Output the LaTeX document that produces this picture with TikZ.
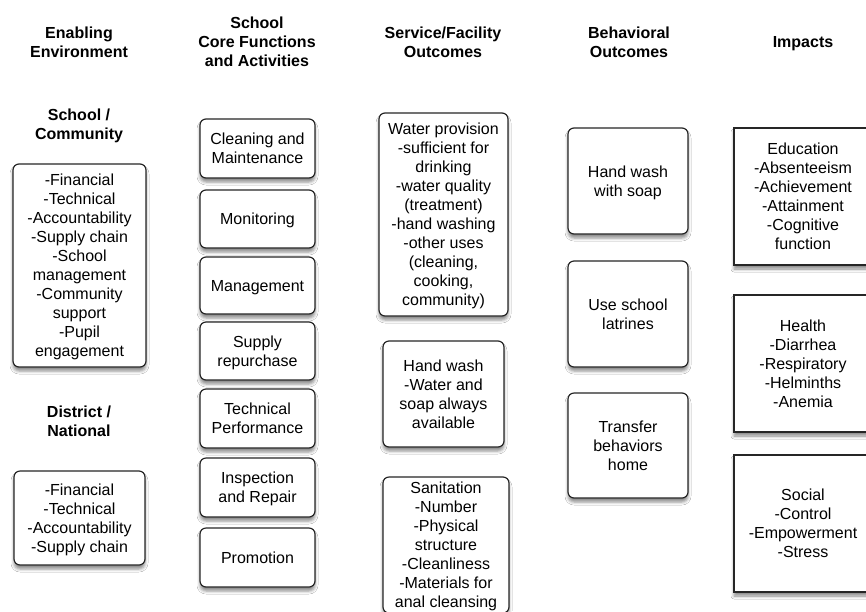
\documentclass[tikz,border=0pt]{standalone}
\usepackage{fontspec}
\setmainfont{Liberation Sans}
\usetikzlibrary{shadows.blur}
\begin{document}
\begin{tikzpicture}[x=1pt,y=-1pt,
  txt/.style={font=\fontsize{16}{19}\selectfont, align=center, inner sep=0pt, text depth=0pt},
  hdr/.style={font=\fontsize{16}{19}\selectfont\bfseries, align=center, inner sep=0pt, text depth=0pt},
  rbox/.style={txt, draw=black!85, line width=1.2pt, rounded corners=6pt, fill=white,
    blur shadow={shadow xshift=0pt, shadow yshift=-4pt, shadow blur radius=3pt, shadow opacity=45}},
  sbox/.style={txt, draw=black!85, line width=1.2pt, fill=white,
    blur shadow={shadow xshift=0pt, shadow yshift=-4pt, shadow blur radius=3pt, shadow opacity=45}}]
\useasboundingbox (0,0) rectangle (866,611);
\fill[white] (0,0) rectangle (866,611);
\clip (0,0) rectangle (866,611);
% headers
\node[hdr] (h1) at (79,42) {Enabling\\Environment};
\node[hdr] (h2) at (257,42) {School\\Core Functions\\and Activities};
\node[hdr] (h3) at (443,42) {Service/Facility\\Outcomes};
\node[hdr] (h4) at (629,42) {Behavioral\\Outcomes};
\node[hdr] (h5) at (803,42) {Impacts};
\node[hdr] (sc) at (79,124.5) {School /\\Community};
\node[hdr] (dn) at (79,421.5) {District /\\National};
% column 1
\node[rbox, minimum width=133pt, minimum height=203pt] (e1) at (79.5,265.5)
  {-Financial\\-Technical\\-Accountability\\-Supply chain\\-School\\management\\-Community\\support\\-Pupil\\engagement};
\node[rbox, minimum width=131pt, minimum height=94pt] (e2) at (79.5,518)
  {-Financial\\-Technical\\-Accountability\\-Supply chain};
% column 2
\node[rbox, minimum width=115pt, minimum height=59pt] (c1) at (257.5,148.5) {Cleaning and\\Maintenance};
\node[rbox, minimum width=115pt, minimum height=58pt] (c2) at (257.5,219) {Monitoring};
\node[rbox, minimum width=115pt, minimum height=57pt] (c3) at (257.5,285.5) {Management};
\node[rbox, minimum width=115pt, minimum height=58pt] (c4) at (257.5,351) {Supply\\repurchase};
\node[rbox, minimum width=115pt, minimum height=59pt] (c5) at (257.5,418.5) {Technical\\Performance};
\node[rbox, minimum width=115pt, minimum height=59pt] (c6) at (257.5,487.5) {Inspection\\and Repair};
\node[rbox, minimum width=115pt, minimum height=59pt] (c7) at (257.5,557.5) {Promotion};
% column 3
\node[rbox, minimum width=129pt, minimum height=203pt] (s1) at (443.5,214.5)
  {Water provision\\-sufficient for\\drinking\\-water quality\\(treatment)\\-hand washing\\-other uses\\(cleaning,\\cooking,\\community)};
\node[rbox, minimum width=121pt, minimum height=106pt] (s2) at (443.5,394)
  {Hand wash\\-Water and\\soap always\\available};
\node[rbox, minimum width=126pt, minimum height=136pt] (s3) at (446,545)
  {Sanitation\\-Number\\-Physical\\structure\\-Cleanliness\\-Materials for\\anal cleansing};
% column 4
\node[rbox, minimum width=120pt, minimum height=106pt] (b1) at (628,181) {Hand wash\\with soap};
\node[rbox, minimum width=120pt, minimum height=106pt] (b2) at (628,314) {Use school\\latrines};
\node[rbox, minimum width=120pt, minimum height=105pt] (b3) at (628,445.5) {Transfer\\behaviors\\home};
% column 5
\node[sbox, minimum width=138pt, minimum height=137pt] (i1) at (803,196.5)
  {Education\\-Absenteeism\\-Achievement\\-Attainment\\-Cognitive\\function};
\node[sbox, minimum width=138pt, minimum height=137pt] (i2) at (803,363.5)
  {Health\\-Diarrhea\\-Respiratory\\-Helminths\\-Anemia};
\node[sbox, minimum width=138pt, minimum height=137pt] (i3) at (803,523.5)
  {Social\\-Control\\-Empowerment\\-Stress};
\end{tikzpicture}
\end{document}
